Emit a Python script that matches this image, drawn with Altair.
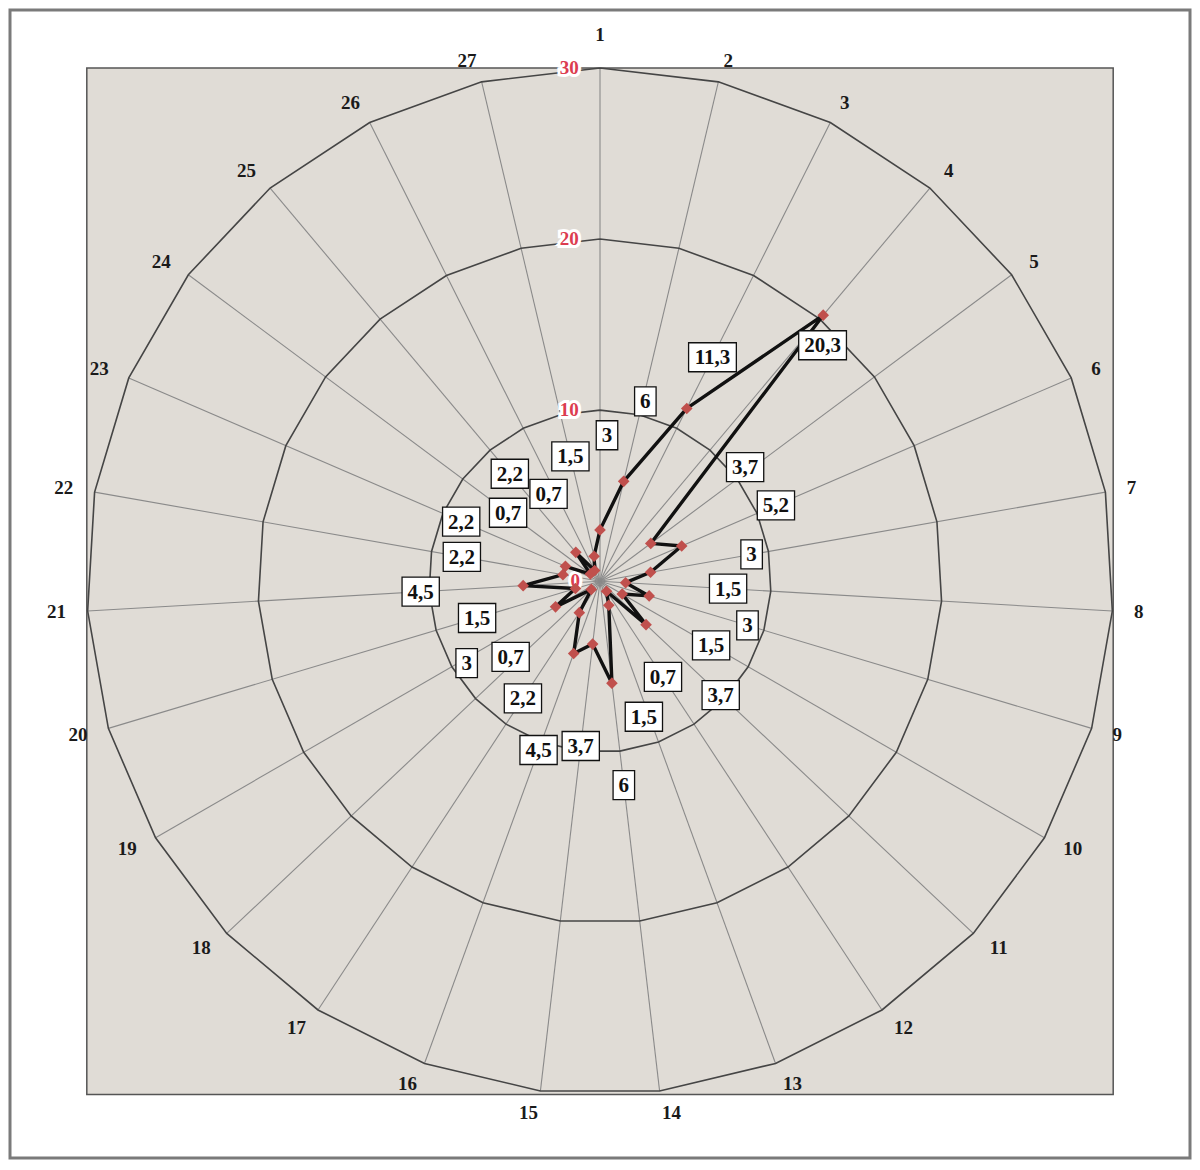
import math
import altair as alt
import pandas as pd

# ---------------- data ----------------
categories = [str(i) for i in range(1, 28)]
values = [3, 6, 11.3, 20.3, 3.7, 5.2, 3, 1.5, 3, 1.5, 3.7, 0.7, 1.5, 6,
          3.7, 4.5, 2.2, 0.7, 3, 1.5, 4.5, 2.2, 2.2, 0.7, 2.2, 0.7, 1.5]
grid_levels = [10, 20, 30]
tick_values = [0, 10, 20, 30]
tick_labels = ["0", "10", "20", "30"]
r_max = 30

# ---------------- layout ----------------
W, H = 1184, 1152
CX, CY = 592.0, 573.2          # centre of the radar inside the view (px)
R_PX = 513.2                   # radius of the 30 ring (px)
K = R_PX / r_max               # px per value unit
x_dom = [-CX / K, (W - CX) / K]
y_dom = [-(H - CY) / K, CY / K]

# label collision nudges (px, dx right / dy down), as the original chart moved some labels
label_nudge = {0: (7, 8), 1: (-2, 20), 3: (12, 15), 4: (12, -15), 12: (0, 15),
               17: (-6, -3), 18: (0, 5), 22: (-10, -4), 25: (0, 15)}

n = len(categories)
ang = [2 * math.pi * i / n for i in range(n)]

FONT = "Liberation Serif"
RED_TXT = "#DC3C50"
MARK_RED = "#C0504D"

X = lambda f: alt.X(f, type="quantitative", scale=alt.Scale(domain=x_dom, nice=False, zero=False), axis=None)
Y = lambda f: alt.Y(f, type="quantitative", scale=alt.Scale(domain=y_dom, nice=False, zero=False), axis=None)

# outer frame (inset so the whole stroke is visible)
ins = 2.0 / K
fr = pd.DataFrame({"x": [x_dom[0] + ins], "x2": [x_dom[1] - ins],
                   "y": [y_dom[0] + ins], "y2": [y_dom[1] - ins]})
frame = alt.Chart(fr).mark_rect(fill="white", stroke="#7a7a7a", strokeWidth=3).encode(
    x=X("x"), x2="x2", y=Y("y"), y2="y2")

# plot-area square bounding the outer ring
sq = pd.DataFrame({"x": [-r_max], "x2": [r_max], "y": [-r_max], "y2": [r_max]})
square = alt.Chart(sq).mark_rect(fill="#E0DCD6", stroke="#555555", strokeWidth=1.5).encode(
    x=X("x"), x2="x2", y=Y("y"), y2="y2")

# spokes
sp = pd.DataFrame({
    "x": [0.0] * n, "y": [0.0] * n,
    "x2": [r_max * math.sin(a) for a in ang],
    "y2": [r_max * math.cos(a) for a in ang],
})
spokes = alt.Chart(sp).mark_rule(color="#8a8a8a", strokeWidth=1.1).encode(
    x=X("x"), y=Y("y"), x2="x2", y2="y2")

# grid rings (polygons)
rows = []
for lv in grid_levels:
    for i in range(n + 1):
        a = ang[i % n]
        rows.append({"level": lv, "idx": i, "x": lv * math.sin(a), "y": lv * math.cos(a)})
gdf = pd.DataFrame(rows)
rings = alt.Chart(gdf).mark_line(color="#454545", strokeWidth=1.6).encode(
    x=X("x"), y=Y("y"), detail="level:N", order="idx:Q")

# data polygon
drows = []
for i in range(n + 1):
    a = ang[i % n]
    v = values[i % n]
    drows.append({"idx": i, "x": v * math.sin(a), "y": v * math.cos(a)})
ddf = pd.DataFrame(drows)
dline = alt.Chart(ddf).mark_line(color="#111111", strokeWidth=3.4, strokeJoin="round").encode(
    x=X("x"), y=Y("y"), order="idx:Q")
pts = alt.Chart(ddf.iloc[:n]).mark_point(shape="diamond", filled=True, size=135,
                                          color=MARK_RED, opacity=1).encode(x=X("x"), y=Y("y"))

# data labels (boxes + text)
DIG_W, COM_W, PAD, BOX_H = 10.5, 5.25, 11, 29
lrows = []
for i, v in enumerate(values):
    txt = f"{v:g}".replace(".", ",")
    lr = v + 6 - 0.5 * max(0.0, v - 6)
    ndx, ndy = label_nudge.get(i, (0, 0))
    cx = lr * math.sin(ang[i]) + ndx / K
    cy = lr * math.cos(ang[i]) - ndy / K
    wpx = sum(COM_W if c == "," else DIG_W for c in txt) + PAD
    hw = wpx / 2 / K
    hh = BOX_H / 2 / K
    lrows.append({"t": txt, "x": cx, "y": cy, "x1": cx - hw, "x2": cx + hw,
                  "y1": cy - hh, "y2": cy + hh})
ldf = pd.DataFrame(lrows)
lbox = alt.Chart(ldf).mark_rect(fill="white", stroke="#111111", strokeWidth=1.3).encode(
    x=X("x1"), x2="x2", y=Y("y1"), y2="y2")
ltxt = alt.Chart(ldf).mark_text(font=FONT, fontSize=21, fontWeight="bold", color="#111111",
                                 align="center", baseline="middle", dy=1).encode(
    x=X("x"), y=Y("y"), text="t:N")

# category labels: anchored just outside the outer ring, pushed sideways by half their width
CAT_FS = 19
R_CAT = 535 / K
crows = []
for c, a in zip(categories, ang):
    s = math.sin(a)
    half_w = 0.5 * len(c) * CAT_FS * 0.5
    if abs(s) < 1e-9:
        x, y = 0.0, R_CAT * math.cos(a) + 11 / K
    else:
        x = R_CAT * s + math.copysign(half_w, s) / K
        y = R_CAT * math.cos(a)
    crows.append({"t": c, "x": x, "y": y})
cdf = pd.DataFrame(crows)
ctxt = alt.Chart(cdf).mark_text(font=FONT, fontSize=CAT_FS, fontWeight="bold", color="#1a1a1a",
                                 align="center", baseline="middle").encode(
    x=X("x"), y=Y("y"), text="t:N")

# radial tick labels
tdf = pd.DataFrame({"t": tick_labels, "v": tick_values,
                    "x": [-(1.1 + 0.35 * len(t)) for t in tick_labels]})
thalo = alt.Chart(tdf).mark_text(font=FONT, fontSize=19, fontWeight="bold", color="white",
                                  stroke="white", strokeWidth=6, align="center", baseline="middle").encode(
    x=X("x"), y=Y("v"), text="t:N")
ttxt = alt.Chart(tdf).mark_text(font=FONT, fontSize=19, fontWeight="bold", color=RED_TXT,
                                 align="center", baseline="middle").encode(
    x=X("x"), y=Y("v"), text="t:N")

chart = alt.layer(frame, square, spokes, rings, thalo, ttxt, dline, pts, lbox, ltxt, ctxt).properties(
    width=W, height=H, padding=0, autosize=alt.AutoSizeParams(type="none"),
    background="white",
).configure_view(stroke=None)

chart.save("out.html", embed_options={"renderer": "svg", "actions": False})
